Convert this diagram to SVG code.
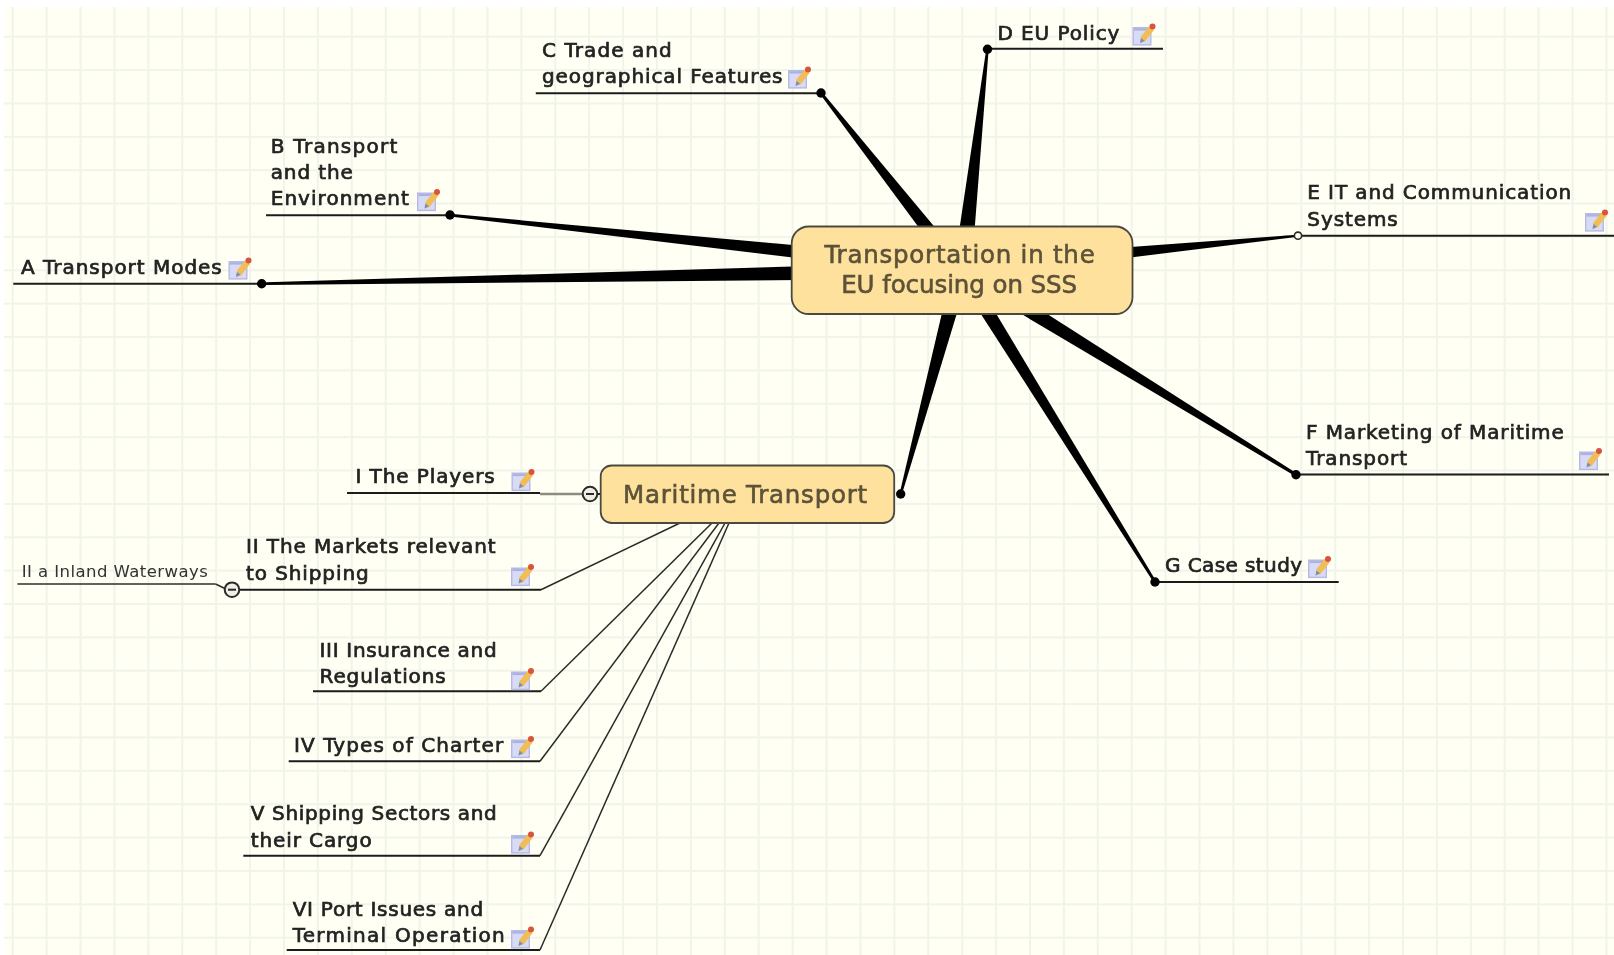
<svg xmlns="http://www.w3.org/2000/svg" xmlns:xlink="http://www.w3.org/1999/xlink" width="1614" height="955" viewBox="0 0 1614 955">
<style>
.lb{font-family:"DejaVu Sans","Liberation Sans",sans-serif;font-size:20px;letter-spacing:.9px;fill:#222;stroke:#222;stroke-width:.7px}
.sm{font-family:"DejaVu Sans","Liberation Sans",sans-serif;font-size:16.5px;letter-spacing:.44px;fill:#333}
.ct{font-family:"DejaVu Sans","Liberation Sans",sans-serif;font-size:24.5px;letter-spacing:.76px;fill:#5c5238;stroke:#5c5238;stroke-width:.6px;text-anchor:middle}
.node{fill:#fee19c;stroke:#4a4a40;stroke-width:1.8}
.ul{stroke:#1c1c1c;stroke-width:2;fill:none}
.th{stroke:#2b2b2b;stroke-width:1.5;fill:none}
.sp{fill:#000}
.dot{fill:#000}
.tog{fill:#efefe4;stroke:#2b2b2b;stroke-width:2}
.soft{filter:url(#soft)}
</style>
<defs>
<filter id="soft" x="-2%" y="-2%" width="104%" height="104%"><feGaussianBlur stdDeviation=".45"/></filter>
<pattern id="grid" patternUnits="userSpaceOnUse" x="-4.255" y="20.015" width="33.91" height="33.37">
<path d="M16.955 0V33.37M0 16.685H33.91" stroke="#f0f4ea" stroke-width="2" fill="none"/>
</pattern>
<symbol id="note" width="24" height="23" viewBox="0 0 24 23" overflow="visible">
<rect x=".7" y="4.7" width="17.6" height="17.2" fill="#d8dbf5" stroke="#b6bae6" stroke-width="1.4"/>
<rect x="1.5" y="5.2" width="16" height="2.4" fill="#adb2e2"/>
<path d="M7.5 20L8.5 13.5L16.5 3.5L21.5 7L12.5 18.5Z" fill="#f2bd55"/>
<path d="M7.5 20L8.5 15L12 17.8Z" fill="#6c90c8"/>
<circle cx="20" cy="3.6" r="3" fill="#d8543c"/>
</symbol>
</defs>
<rect x="4" y="7" width="1610" height="948" fill="#fffff3"/>
<rect x="4" y="7" width="1610" height="948" fill="url(#grid)"/>
<g class="soft">
<g id="connectors">
<polygon class="sp" points="262,282.4 830,265.4 830,279.7 262,285"/>
<polygon class="sp" points="450,213.8 830,248.4 830,262 450,216.4"/>
<polygon class="sp" points="820,94 935.5,250 953.8,250 822,92"/>
<polygon class="sp" points="986.3,49 956.3,250 973,250 988.7,49"/>
<polygon class="sp" points="1298,234.7 1100,249.2 1100,261.2 1298,236.7"/>
<polygon class="sp" points="899.5,494 949.7,280 967,280 902,494"/>
<polygon class="sp" points="1295,476 964,280 994,280 1297,473.5"/>
<polygon class="sp" points="1154,583 959,280 976,280 1156,581"/>
<path class="th" d="M541 589.7L680 523"/>
<path class="th" d="M541 691.3L712 523"/>
<path class="th" d="M540 761.3L719 523"/>
<path class="th" d="M540 855.7L725 523"/>
<path class="th" d="M540 950L729 523"/>
<path d="M540 494H584" stroke="#8c8c84" stroke-width="2.4" fill="none"/>
<path class="ul" d="M597 494H601"/>
<path class="th" d="M215.5 584L226 589"/>
</g>
<g id="center">
<rect class="node" x="791.7" y="226.5" width="340.8" height="87.5" rx="17"/>
<text class="ct" x="960" y="263">Transportation in the</text>
<text class="ct" x="959.5" y="293" textLength="236.7">EU focusing on SSS</text>
</g>
<g id="maritime">
<rect class="node" x="600.7" y="465.5" width="293.5" height="57.5" rx="11"/>
<text class="ct" x="745.5" y="503">Maritime Transport</text>
<circle class="dot" cx="900.7" cy="494" r="4.7"/>
<circle class="tog" cx="590" cy="494" r="7.3"/>
<path d="M586 494H594" stroke="#2b2b2b" stroke-width="2"/>
</g>
<g id="nodeA">
<path class="ul" d="M13.3 283.7H262"/>
<circle class="dot" cx="261.7" cy="283.7" r="4.7"/>
<text class="lb" x="21" y="274" textLength="201.7">A Transport Modes</text>
<use xlink:href="#note" href="#note" x="228.5" y="257"/>
</g>
<g id="nodeB">
<path class="ul" d="M266 215.3H450"/>
<circle class="dot" cx="450" cy="215" r="4.7"/>
<text class="lb" x="270.7" y="152.7" textLength="127.6">B Transport</text>
<text class="lb" x="270.7" y="179">and the</text>
<text class="lb" x="270.7" y="205" textLength="139">Environment</text>
<use xlink:href="#note" href="#note" x="417" y="188.5"/>
</g>
<g id="nodeC">
<path class="ul" d="M535.8 93.3H821"/>
<circle class="dot" cx="821" cy="93" r="4.7"/>
<text class="lb" x="542" y="57.3" textLength="130.7">C Trade and</text>
<text class="lb" x="542" y="83.3">geographical Features</text>
<use xlink:href="#note" href="#note" x="788" y="66"/>
</g>
<g id="nodeD">
<path class="ul" d="M987.5 48.7H1163"/>
<circle class="dot" cx="987.5" cy="49.3" r="4.7"/>
<text class="lb" x="997.5" y="40">D EU Policy</text>
<use xlink:href="#note" href="#note" x="1132.5" y="23"/>
</g>
<g id="nodeE">
<path class="ul" d="M1298 235.7H1614"/>
<circle cx="1298" cy="235.7" r="3.6" fill="#fffff3" stroke="#2b2b2b" stroke-width="1.6"/>
<text class="lb" x="1307.3" y="199.3">E IT and Communication</text>
<text class="lb" x="1307.3" y="226">Systems</text>
<use xlink:href="#note" href="#note" x="1585" y="209"/>
</g>
<g id="nodeF">
<path class="ul" d="M1296 474.5H1609"/>
<circle class="dot" cx="1296" cy="474.7" r="4.7"/>
<text class="lb" x="1306" y="438.7">F Marketing of Maritime</text>
<text class="lb" x="1306" y="465">Transport</text>
<use xlink:href="#note" href="#note" x="1579" y="447.5"/>
</g>
<g id="nodeG">
<path class="ul" d="M1155 582H1338.7"/>
<circle class="dot" cx="1155" cy="582" r="4.7"/>
<text class="lb" x="1165" y="572.3" textLength="138">G Case study</text>
<use xlink:href="#note" href="#note" x="1308" y="555.5"/>
</g>
<g id="nodeI">
<path class="ul" d="M347 493H540"/>
<text class="lb" x="355.5" y="483.3">I The Players</text>
<use xlink:href="#note" href="#note" x="511.5" y="468.5"/>
</g>
<g id="nodeII">
<path class="ul" d="M239 589.7H541"/>
<circle class="tog" cx="232" cy="589.7" r="7.3"/>
<path d="M228 589.7H236" stroke="#2b2b2b" stroke-width="2"/>
<text class="lb" x="246" y="553.3">II The Markets relevant</text>
<text class="lb" x="246" y="580">to Shipping</text>
<use xlink:href="#note" href="#note" x="511" y="563.5"/>
</g>
<g id="nodeIIa">
<path class="th" d="M17.4 584H215.5"/>
<text class="sm" x="21.7" y="576.7">II a Inland Waterways</text>
</g>
<g id="nodeIII">
<path class="ul" d="M313 691.3H541"/>
<text class="lb" x="319.5" y="657.3" textLength="178">III Insurance and</text>
<text class="lb" x="319.5" y="682.7">Regulations</text>
<use xlink:href="#note" href="#note" x="511" y="667.5"/>
</g>
<g id="nodeIV">
<path class="ul" d="M288.7 761.3H540"/>
<text class="lb" x="294" y="751.7" textLength="210">IV Types of Charter</text>
<use xlink:href="#note" href="#note" x="511" y="735.5"/>
</g>
<g id="nodeV">
<path class="ul" d="M243.3 855.7H540"/>
<text class="lb" x="250.7" y="820" textLength="247">V Shipping Sectors and</text>
<text class="lb" x="250.7" y="846.7">their Cargo</text>
<use xlink:href="#note" href="#note" x="511" y="831"/>
</g>
<g id="nodeVI">
<path class="ul" d="M286.7 950H540"/>
<text class="lb" x="292.7" y="916" textLength="191.4">VI Port Issues and</text>
<text class="lb" x="292.7" y="941.7" textLength="213">Terminal Operation</text>
<use xlink:href="#note" href="#note" x="511" y="926"/>
</g>
</g>
</svg>
